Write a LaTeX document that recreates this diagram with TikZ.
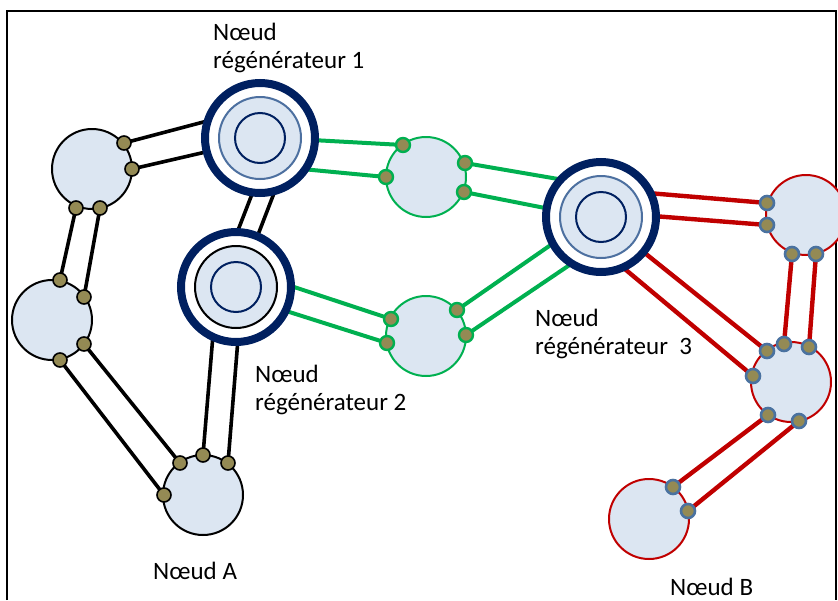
\documentclass[tikz,border=0pt]{standalone}
\usepackage{fontspec}
\setmainfont{Carlito}
\definecolor{navy}{HTML}{002060}
\definecolor{midblue}{HTML}{4D70A0}
\definecolor{nodefill}{HTML}{DCE6F2}
\definecolor{portfill}{HTML}{948A54}
\definecolor{portblue}{HTML}{4A72A0}
\definecolor{lgreen}{HTML}{00B050}
\definecolor{lred}{HTML}{C00000}
\tikzset{
  x=1pt, y=-1pt,
  plain/.style={circle, fill=nodefill, minimum size=80pt, inner sep=0pt, line width=2pt},
  ring/.style={circle, fill=white, draw=navy, line width=8pt, minimum size=110pt, inner sep=0pt},
  midring/.style={circle, fill=nodefill, draw=midblue, line width=2pt, minimum size=82pt, inner sep=0pt},
  core/.style={circle, draw=navy, line width=2pt, minimum size=50pt, inner sep=0pt},
  port/.style={circle, fill=portfill, minimum size=14pt, inner sep=0pt, line width=1.6pt},
  blackport/.style={port, draw=black},
  greenport/.style={port, draw=lgreen, line width=2.4pt},
  redport/.style={port, draw=portblue, line width=2.6pt},
  blink/.style={draw=black, line width=3.6pt},
  glink/.style={draw=lgreen, line width=4pt},
  rlink/.style={draw=lred, line width=4.4pt},
  label/.style={anchor=base west, inner sep=0pt, font=\fontsize{25}{28}\selectfont},
}
\begin{document}
\begin{tikzpicture}
\useasboundingbox (0,0) rectangle (838,600);

% frame
\draw[line width=2pt] (7,600) -- (7,11) -- (836,11) -- (836,600);

% node centres
\coordinate (R1) at (260,138);
\coordinate (R2) at (236,287);
\coordinate (R3) at (601,217);
\coordinate (N1) at (92,169);
\coordinate (N2) at (52,320);
\coordinate (NA) at (203,495);
\coordinate (G1) at (426,177);
\coordinate (G2) at (426,336);
\coordinate (D1) at (806,215);
\coordinate (D2) at (791,382);
\coordinate (NB) at (649,519);

% ports on the ordinary nodes
\coordinate (n1a) at (124,143);
\coordinate (n1b) at (132,169);
\coordinate (n1c) at (76,208);
\coordinate (n1d) at (100,208);
\coordinate (n2a) at (60,280);
\coordinate (n2b) at (84,297);
\coordinate (n2c) at (84,344);
\coordinate (n2d) at (60,360);
\coordinate (naa) at (180,463);
\coordinate (nab) at (203,455);
\coordinate (nac) at (228,463);
\coordinate (nad) at (164,495);
\coordinate (g1a) at (403,145);
\coordinate (g1b) at (386,177);
\coordinate (g1c) at (465,163);
\coordinate (g1d) at (464,192);
\coordinate (g2a) at (391,319);
\coordinate (g2b) at (387,343);
\coordinate (g2c) at (457,310);
\coordinate (g2d) at (466,335);
\coordinate (d1a) at (767,203);
\coordinate (d1b) at (767,225);
\coordinate (d1c) at (792,254);
\coordinate (d1d) at (816,254);
\coordinate (d2a) at (784,344);
\coordinate (d2b) at (809,347);
\coordinate (d2c) at (767,351);
\coordinate (d2d) at (753,376);
\coordinate (d2e) at (768,415);
\coordinate (d2f) at (799,421);
\coordinate (nba) at (673,487);
\coordinate (nbb) at (688,511);

% link ends inside the regenerator rings
\coordinate (r1a) at (211,120);
\coordinate (r1b) at (210,151);
\coordinate (r1c) at (254,189);
\coordinate (r1d) at (276,188);
\coordinate (r1e) at (312,140);
\coordinate (r1f) at (302,169);
\coordinate (r2a) at (235,238);
\coordinate (r2b) at (256,240);
\coordinate (r2c) at (288,285);
\coordinate (r2d) at (283,310);
\coordinate (r2e) at (213,335);
\coordinate (r2f) at (238,339);
\coordinate (r3a) at (564,180);
\coordinate (r3b) at (550,209);
\coordinate (r3c) at (555,242);
\coordinate (r3d) at (574,262);
\coordinate (r3e) at (648,193);
\coordinate (r3f) at (653,216);
\coordinate (r3g) at (641,250);
\coordinate (r3h) at (620,265);

% black links
\draw[blink] (n1a) -- (r1a);
\draw[blink] (n1b) -- (r1b);
\draw[blink] (n1c) -- (n2a);
\draw[blink] (n1d) -- (n2b);
\draw[blink] (n2c) -- (naa);
\draw[blink] (n2d) -- (nad);
\draw[blink] (r1c) -- (r2a);
\draw[blink] (r1d) -- (r2b);
\draw[blink] (r2e) -- (nab);
\draw[blink] (r2f) -- (nac);

% green links
\draw[glink] (r1e) -- (g1a);
\draw[glink] (r1f) -- (g1b);
\draw[glink] (g1c) -- (r3a);
\draw[glink] (g1d) -- (r3b);
\draw[glink] (r2c) -- (g2a);
\draw[glink] (r2d) -- (g2b);
\draw[glink] (g2c) -- (r3c);
\draw[glink] (g2d) -- (r3d);

% red links
\draw[rlink] (r3e) -- (d1a);
\draw[rlink] (r3f) -- (d1b);
\draw[rlink] (d1c) -- (d2a);
\draw[rlink] (d1d) -- (d2b);
\draw[rlink] (r3g) -- (d2c);
\draw[rlink] (r3h) -- (d2d);
\draw[rlink] (d2e) -- (nba);
\draw[rlink] (d2f) -- (nbb);

% regenerator nodes
\node[ring] (R1o) at (R1) {};
\node[midring] (R1m) at (R1) {};
\node[core] (R1c) at (R1) {};
\node[ring] (R2o) at (R2) {};
\node[midring, draw=black] (R2m) at (R2) {};
\node[core] (R2c) at (R2) {};
\node[ring] (R3o) at (R3) {};
\node[midring] (R3m) at (R3) {};
\node[core] (R3c) at (R3) {};

% ordinary nodes
\node[plain, draw=black] (N1n) at (N1) {};
\node[plain, draw=black] (N2n) at (N2) {};
\node[plain, draw=black] (NAn) at (NA) {};
\node[plain, draw=lgreen] (G1n) at (G1) {};
\node[plain, draw=lgreen] (G2n) at (G2) {};
\node[plain, draw=lred] (D1n) at (D1) {};
\node[plain, draw=lred] (D2n) at (D2) {};
\node[plain, draw=lred] (NBn) at (NB) {};

% ports
\foreach \p in {n1a,n1b,n1c,n1d,n2a,n2b,n2c,n2d,naa,nab,nac,nad}
  \node[blackport] (p-\p) at (\p) {};
\foreach \p in {g1a,g1b,g1c,g1d,g2a,g2b,g2c,g2d}
  \node[greenport] (p-\p) at (\p) {};
\foreach \p in {d1a,d1b,d1c,d1d,d2a,d2b,d2c,d2d,d2e,d2f,nba,nbb}
  \node[redport] (p-\p) at (\p) {};

% labels
\node[label] (l1a) at (213,40) {Nœud};
\node[label] (l1b) at (213,68) {régénérateur 1};
\node[label] (l2a) at (255,382) {Nœud};
\node[label] (l2b) at (255,410) {régénérateur 2};
\node[label] (l3a) at (535,326) {Nœud};
\node[label] (l3b) at (535,354) {régénérateur\ \ 3};
\node[label] (lA) at (153,579) {Nœud A};
\node[label] (lB) at (670,595) {Nœud B};
\end{tikzpicture}
\end{document}
